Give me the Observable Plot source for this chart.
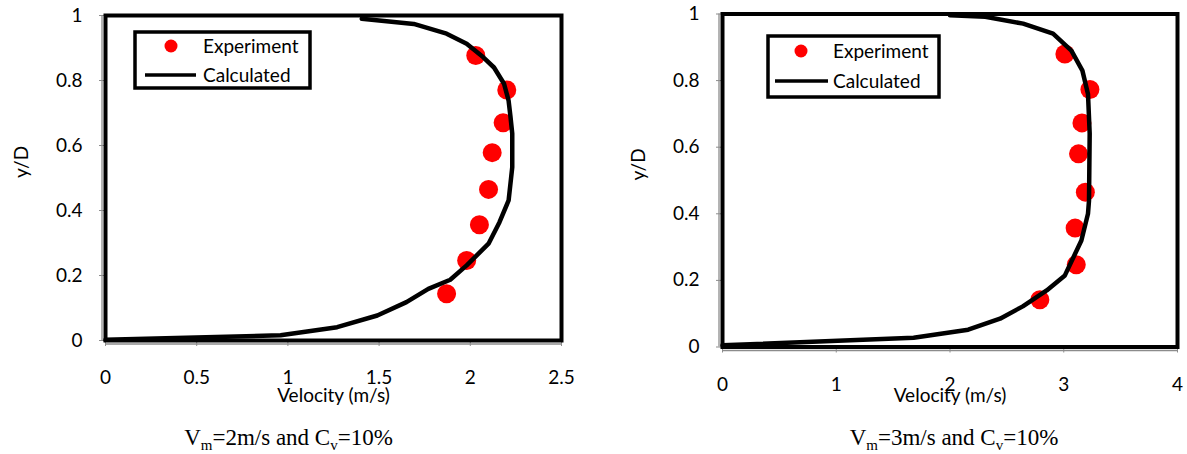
<!DOCTYPE html>
<html>
<head>
<meta charset="utf-8">
<script src="https://cdn.jsdelivr.net/npm/d3@7"></script>
<script src="https://cdn.jsdelivr.net/npm/@observablehq/plot@0.6"></script>
<style>
  body { margin: 0; background: #fff; }
  #root { position: relative; width: 1187px; height: 454px; overflow: hidden; }
  .panel { position: absolute; top: 0; }
  .panel svg { max-width: none; }
  #overlay { position: absolute; left: 0; top: 0; pointer-events: none; }
</style>
</head>
<body>
<div id="root">
  <div class="panel" id="left" style="left:0px;width:590px"></div>
  <div class="panel" id="right" style="left:600px;width:587px"></div>
</div>
<script>
// Shared y axis (normalized height across the pipe)
const yTicks = [0, 0.2, 0.4, 0.6, 0.8, 1];

// Vm = 2 m/s, Cv = 10%
const xTicksA = [0, 0.5, 1, 1.5, 2, 2.5];
const expVA  = [2.03, 2.20, 2.18, 2.12, 2.10, 2.05, 1.98, 1.87];
const expYA  = [0.877, 0.771, 0.670, 0.578, 0.465, 0.356, 0.246, 0.144];
const calcVA = [0, 0.96, 1.27, 1.49, 1.65, 1.77, 1.89, 1.98, 2.10, 2.16, 2.21, 2.23, 2.23, 2.22, 2.21, 2.185, 2.13, 2.07, 1.98, 1.87, 1.69, 1.405];
const calcYA = [0.002, 0.016, 0.041, 0.077, 0.118, 0.159, 0.187, 0.231, 0.298, 0.364, 0.431, 0.533, 0.637, 0.69, 0.738, 0.79, 0.84, 0.872, 0.913, 0.944, 0.974, 0.99];

// Vm = 3 m/s, Cv = 10%
const xTicksB = [0, 1, 2, 3, 4];
const expVB  = [3.01, 3.23, 3.16, 3.13, 3.19, 3.10, 3.11, 2.79];
const expYB  = [0.880, 0.773, 0.673, 0.580, 0.465, 0.357, 0.247, 0.142];
const calcVB = [0, 1.68, 2.16, 2.44, 2.64, 2.85, 3.01, 3.155, 3.213, 3.222, 3.228, 3.213, 3.164, 3.067, 2.906, 2.643, 2.31, 2.0];
const calcYB = [0.005, 0.028, 0.052, 0.085, 0.122, 0.170, 0.215, 0.32, 0.40, 0.44, 0.641, 0.760, 0.83, 0.890, 0.941, 0.971, 0.992, 0.996];

const xLabel = "Velocity (m/s)";
const yLabel = "y/D";
const legendLabels = ["Experiment", "Calculated"];

const zip = (vs, ys) => vs.map((v, i) => ({v, y: ys[i]}));
const fmt = d => String(d);
const axisGray = "#8c8c8c";

function profilePanel({expV, expY, calcV, calcY, xDomain, xTicks, width, height, marginLeft, marginRight, marginTop, marginBottom, labelDy}) {
  return Plot.plot({
    width, height, marginLeft, marginRight, marginTop, marginBottom,
    style: {fontFamily: "Lato, sans-serif", fontSize: "19px", color: "black", background: "transparent", overflow: "visible"},
    x: {domain: xDomain},
    y: {domain: [0, 1]},
    marks: [
      Plot.ruleX([0], {stroke: axisGray, strokeWidth: 1.3, dx: -3.5}),
      Plot.ruleY([0], {stroke: axisGray, strokeWidth: 1.3, dy: 3.5}),
      Plot.axisX({ticks: xTicks, tickFormat: fmt, tickSize: 6, tickPadding: 24, stroke: axisGray, fill: "black", label: null}),
      Plot.axisY({ticks: yTicks, tickFormat: fmt, tickSize: 6, tickPadding: 17, stroke: axisGray, fill: "black", label: null}),
      Plot.dot(zip(expV, expY), {x: "v", y: "y", r: 9.5, fill: "#ff0000", stroke: "none"}),
      Plot.line(zip(calcV, calcY), {x: "v", y: "y", stroke: "black", strokeWidth: 4.5, strokeLinejoin: "round", strokeLinecap: "round"}),
      Plot.frame({stroke: "black", strokeWidth: 4}),
      Plot.text([xLabel], {frameAnchor: "bottom", dy: labelDy, lineAnchor: "middle", fill: "black"}),
      Plot.text([yLabel], {frameAnchor: "left", dx: -84, rotate: -90, lineAnchor: "middle", fill: "black"})
    ]
  });
}

document.getElementById("left").append(profilePanel({
  expV: expVA, expY: expYA, calcV: calcVA, calcY: calcYA,
  xDomain: [0, 2.5], xTicks: xTicksA,
  width: 590, height: 425, marginLeft: 105, marginRight: 29, marginTop: 15, marginBottom: 85, labelDy: 55
}));

document.getElementById("right").append(profilePanel({
  expV: expVB, expY: expYB, calcV: calcVB, calcY: calcYB,
  xDomain: [0, 4], xTicks: xTicksB,
  width: 587, height: 425, marginLeft: 122, marginRight: 10, marginTop: 13.5, marginBottom: 78.5, labelDy: 48.5
}));

// Legends and captions drawn on top of both panels
const svg = d3.select("#root").append("svg")
  .attr("id", "overlay").attr("width", 1187).attr("height", 454);

function legend(g, {x, y, w, h, dotX, dotY, lineX1, lineX2, lineY, textX, textY1, textY2}) {
  g.append("rect").attr("x", x).attr("y", y).attr("width", w).attr("height", h)
    .attr("fill", "white").attr("stroke", "black").attr("stroke-width", 3.5);
  g.append("circle").attr("cx", dotX).attr("cy", dotY).attr("r", 6.5).attr("fill", "#ff0000");
  g.append("line").attr("x1", lineX1).attr("x2", lineX2).attr("y1", lineY).attr("y2", lineY)
    .attr("stroke", "black").attr("stroke-width", 3.5);
  const t = g.append("g").attr("font-family", "Lato, sans-serif").attr("font-size", 19).attr("fill", "black");
  t.append("text").attr("x", textX).attr("y", textY1).text(legendLabels[0]);
  t.append("text").attr("x", textX).attr("y", textY2).text(legendLabels[1]);
}

legend(svg.append("g"), {x: 135, y: 32, w: 175, h: 56, dotX: 171, dotY: 46, lineX1: 145, lineX2: 196, lineY: 75, textX: 203, textY1: 52.5, textY2: 81.7});
legend(svg.append("g"), {x: 768, y: 36, w: 171, h: 61, dotX: 801, dotY: 51, lineX1: 775, lineX2: 828, lineY: 81, textX: 833, textY1: 58.3, textY2: 88.3});

function caption(cx, vm) {
  const t = svg.append("text").attr("x", cx).attr("y", 445).attr("text-anchor", "middle")
    .attr("font-family", "'Liberation Serif', 'Times New Roman', serif").attr("font-size", 23).attr("fill", "black");
  t.append("tspan").text("V");
  t.append("tspan").attr("dy", 5).attr("font-size", 15).text("m");
  t.append("tspan").attr("dy", -5).text(`=${vm}m/s and C`);
  t.append("tspan").attr("dy", 5).attr("font-size", 15).text("v");
  t.append("tspan").attr("dy", -5).text("=10%");
}
caption(288.5, 2);
caption(954, 3);
</script>
</body>
</html>
